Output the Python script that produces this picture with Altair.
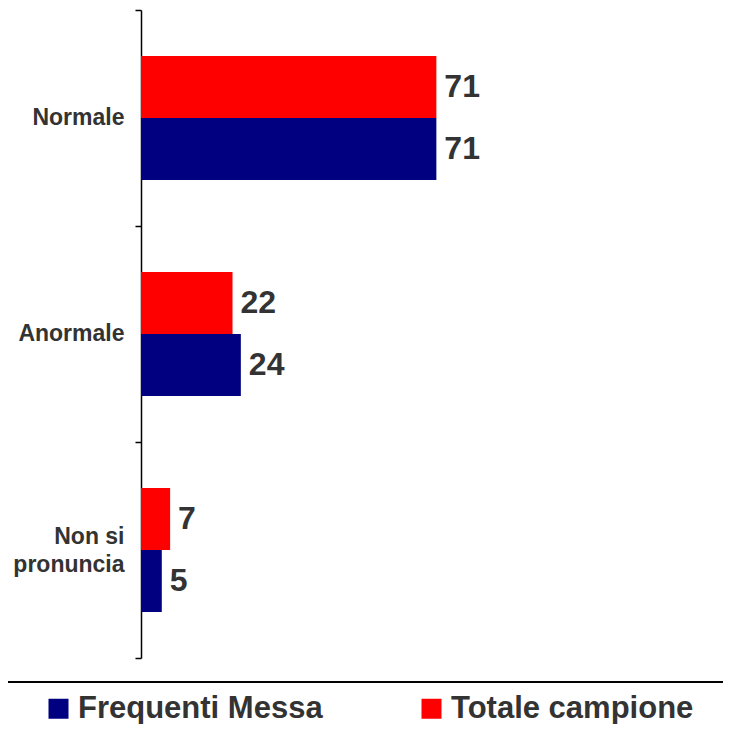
import altair as alt
import pandas as pd

categorie = ["Normale", "Anormale", "Non si pronuncia"]
frequenti_messa = [71, 24, 5]
totale_campione = [71, 22, 7]
serie = ["Frequenti Messa", "Totale campione"]
colori = ["#000080", "#FF0000"]

rows = []
for c, f, t in zip(categorie, frequenti_messa, totale_campione):
    rows.append({"categoria": c, "serie": "Frequenti Messa", "valore": f})
    rows.append({"categoria": c, "serie": "Totale campione", "valore": t})
df = pd.DataFrame(rows)

FONT = "Liberation Sans"

base = alt.Chart(df).encode(
    y=alt.Y(
        "categoria:N",
        sort=categorie,
        scale=alt.Scale(paddingInner=0, paddingOuter=0),
        axis=alt.Axis(
            title=None,
            bandPosition=1,
            tickExtra=True,
            labelExpr="datum.label == 'Non si pronuncia' ? ['Non si', 'pronuncia'] : datum.label",
            labelOffset={"condition": {"test": "datum.value == 'Non si pronuncia'", "value": -13}, "value": 0},
        ),
    ),
    yOffset=alt.YOffset(
        "serie:N",
        sort=["Totale campione", "Frequenti Messa"],
        scale=alt.Scale(paddingInner=0, paddingOuter=0.742),
    ),
    x=alt.X("valore:Q", scale=alt.Scale(domain=[0, 100]), axis=None),
)

bars = base.mark_bar().encode(
    color=alt.Color(
        "serie:N",
        scale=alt.Scale(domain=serie, range=colori),
        legend=alt.Legend(
            title=None,
            orient="none",
            legendX=-98,
            legendY=683,
            direction="horizontal",
            symbolType="square",
            symbolSize=400,
            symbolStrokeWidth=0,
            labelFont=FONT,
            labelFontSize=31,
            labelFontWeight="bold",
            labelColor="#333333",
            labelOffset=4,
            columnPadding=93,
            padding=0,
            labelLimit=0,
        ),
    )
)

text = base.mark_text(
    align="left",
    baseline="middle",
    dx=8,
    fontSize=32,
    fontWeight="bold",
    font=FONT,
    color="#333333",
).encode(text="valore:Q")

rule = alt.Chart(pd.DataFrame({"a": [0]})).mark_rule(color="#000000", strokeWidth=2).encode(
    x=alt.value(-133), x2=alt.value(582), y=alt.value(672)
)

chart = (
    alt.layer(bars, text, rule)
    .properties(
        width=416,
        height=648,
        padding={"left": 133, "top": 2, "right": 166, "bottom": 66},
        autosize=alt.AutoSizeParams(type="none"),
    )
    .configure_view(stroke=None)
    .configure_axis(
        domainColor="#000000",
        domainWidth=1.5,
        tickColor="#000000",
        tickSize=6,
        tickWidth=1.5,
        labelFont=FONT,
        labelFontSize=23,
        labelFontWeight="bold",
        labelColor="#333333",
        labelPadding=11,
        labelLineHeight=28,
        labelLimit=0,
    )
)

chart.save("out.html", embed_options={"renderer": "svg", "actions": False})
